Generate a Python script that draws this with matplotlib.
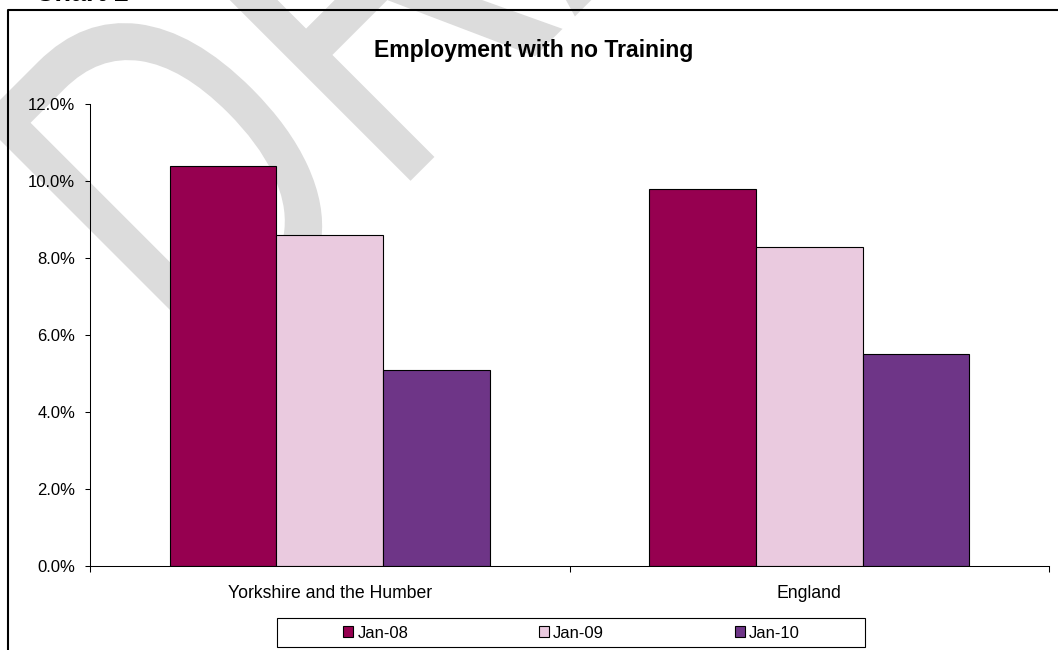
import matplotlib
matplotlib.use('Agg')
import matplotlib.pyplot as plt
import numpy as np
from matplotlib.textpath import TextPath
from matplotlib.font_manager import FontProperties
from matplotlib.patches import PathPatch, Rectangle, Patch
from matplotlib.transforms import Affine2D
from matplotlib.lines import Line2D
from matplotlib.ticker import FuncFormatter

plt.rcParams['font.family'] = ['Liberation Sans', 'DejaVu Sans']

# data
categories = ['Yorkshire and the Humber', 'England']
series = ['Jan-08', 'Jan-09', 'Jan-10']
jan08 = [10.4, 9.8]
jan09 = [8.6, 8.3]
jan10 = [5.1, 5.5]
colors = ['#960050', '#EACADF', '#6E3587']
yticks = [0, 2, 4, 6, 8, 10, 12]

W, H = 1058, 650
fig = plt.figure(figsize=(W / 100, H / 100), dpi=100)
px = Affine2D().scale(1 / W, 1 / H) + fig.transFigure

# grey "DRAFT" watermark behind the chart
fp = FontProperties(family='Liberation Sans')
wm = TextPath((0, 0), 'DRAFT', size=1, prop=fp)
d_box = TextPath((0, 0), 'D', size=1, prop=fp).get_extents()
rot = Affine2D().scale(362, 505).rotate_deg(45)
cx, cy = rot.transform((d_box.x0, d_box.y1))
rot.translate(-20 - cx, (H - 120) - cy)
fig.add_artist(PathPatch(rot.transform_path(wm), facecolor='#dcdcdc',
                         edgecolor='none', transform=px, zorder=-1))

ax = fig.add_axes([90 / W, (H - 566) / H, 959 / W, 461.7 / H])
ax.set_facecolor('none')

x = np.arange(len(categories))
w = 2 / 9
for i, (vals, name, c) in enumerate(zip([jan08, jan09, jan10], series, colors)):
    ax.bar(x + (i - 1) * w, vals, w, color=c, edgecolor='black', linewidth=0.8, label=name)

ax.set_xlim(-0.5, 1.5)
ax.set_ylim(0, 12)
ax.set_yticks(yticks)
ax.yaxis.set_major_formatter(FuncFormatter(lambda v, p: f'{v:.1f}%'))
ax.tick_params(axis='y', direction='out', length=3.6, width=0.75, pad=7, labelsize=12)

# ticks between categories, labels centred on them
ax.set_xticks([-0.5, 0.5, 1.5])
ax.set_xticklabels([])
ax.set_xticks(x, minor=True)
ax.set_xticklabels(categories, minor=True)
ax.tick_params(axis='x', which='major', direction='out', length=4.3, width=0.75)
ax.tick_params(axis='x', which='minor', length=0, pad=14, labelsize=12.7)

for s in ['top', 'right']:
    ax.spines[s].set_visible(False)
for s in ['left', 'bottom']:
    ax.spines[s].set_linewidth(0.75)

fig.text(533.5 / W, 1 - 56.7 / H, 'Employment with no Training', ha='center',
         va='baseline', fontsize=16.6, fontweight='bold')
# heading above the chart, mostly cut off by the top edge as in the source
fig.text(35 / W, 1 - 1.0 / H, 'Chart 1', ha='left', va='baseline',
         fontsize=19.5, fontweight='bold')

# outer chart border (only top and left are inside the picture)
fig.add_artist(Line2D([8 / W, 8 / W, 1.05], [-0.05, 1 - 9.5 / H, 1 - 9.5 / H],
                      transform=fig.transFigure, color='black', linewidth=1.5, zorder=5))

# legend
fig.add_artist(Rectangle((277 / W, (H - 646.7) / H), 588 / W, 28.4 / H,
                         transform=fig.transFigure, facecolor='none',
                         edgecolor='black', linewidth=0.8))
handles = [Patch(facecolor=c, edgecolor='black', linewidth=0.8) for c in colors]
fig.legend(handles, series, loc='center', bbox_to_anchor=(571.5 / W, 1 - 633 / H),
           ncol=3, frameon=False, fontsize=12, handlelength=0.6, handleheight=0.6,
           handletextpad=0.26, columnspacing=7.84, borderpad=0)

fig.savefig('out.png', dpi=100)
